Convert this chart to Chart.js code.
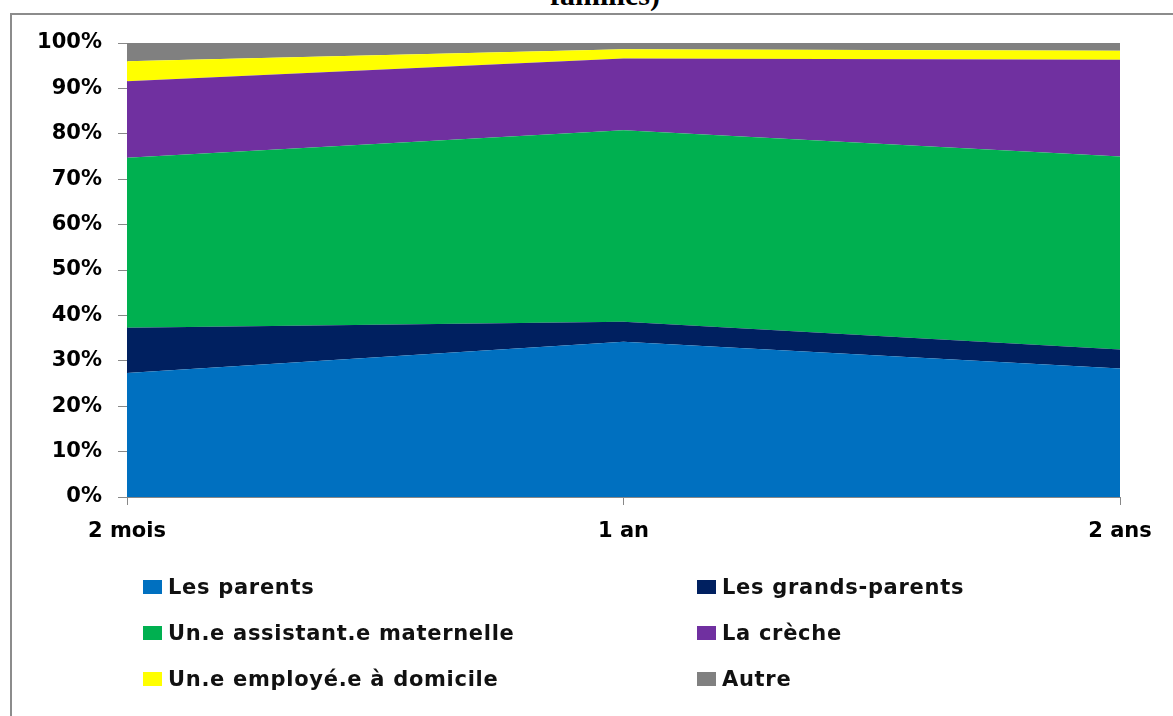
<!DOCTYPE html>
<html>
<head>
<meta charset="utf-8">
<script src="https://cdn.jsdelivr.net/npm/chart.js@4/dist/chart.umd.min.js"></script>
<style>
  html, body { margin: 0; padding: 0; background: #fff; width: 1173px; height: 716px; overflow: hidden; }
  #wrap { position: absolute; left: 0; top: 0; width: 1173px; height: 716px; }
  #frame { position: absolute; left: 10px; top: 13px; width: 1200px; height: 720px;
           border-top: 2px solid #8c8c8c; border-left: 2px solid #8c8c8c; box-sizing: border-box; }
  #title { position: absolute; left: 405px; width: 400px; top: -20px; text-align: center;
           font-family: "Liberation Serif", "Times New Roman", serif; font-weight: bold;
           font-size: 30px; line-height: 30px; color: #000; }
  canvas { position: absolute; left: 0; top: 0; }
  .lg { position: absolute; height: 24px; line-height: 24px; white-space: nowrap;
        font-family: "DejaVu Sans", sans-serif; font-weight: bold; font-size: 21px; letter-spacing: 0.7px; color: #111; }
  .lg i { position: absolute; left: 0; top: 5px; width: 19px; height: 14px; }
  .lg span { position: absolute; left: 25px; top: 0; }
</style>
</head>
<body>
<div id="wrap">
  <div id="frame"></div>
  <div id="title">familles)</div>
  <canvas id="c" width="1173" height="716"></canvas>
  <div id="legend"></div>
</div>
<script>
const categories = ["2 mois", "1 an", "2 ans"];
const seriesNames = ["Les parents", "Les grands-parents", "Un.e assistant.e maternelle",
                     "La crèche", "Un.e employé.e à domicile", "Autre"];
const parents       = [27.3, 34.2, 28.3];
const grandsParents = [10.0, 4.4, 4.2];
const assistante    = [37.4, 42.2, 42.5];
const creche        = [16.9, 15.8, 21.3];
const employee      = [4.4, 2.0, 2.0];
const autre         = [4.0, 1.4, 1.7];
const colors = ["#0070C0", "#002060", "#00B050", "#7030A0", "#FFFF00", "#808080"];
const yTicks = [0, 10, 20, 30, 40, 50, 60, 70, 80, 90, 100];

const seriesValues = [parents, grandsParents, assistante, creche, employee, autre];

const datasets = seriesValues.map((vals, i) => ({
  label: seriesNames[i],
  data: vals,
  backgroundColor: colors[i],
  borderColor: colors[i],
  borderWidth: 0,
  pointRadius: 0,
  tension: 0,
  fill: i === 0 ? 'origin' : '-1'
}));

const tickFont = { family: "DejaVu Sans", weight: "bold", size: 21 };

new Chart(document.getElementById('c'), {
  type: 'line',
  data: { labels: categories, datasets },
  options: {
    responsive: false,
    animation: false,
    layout: { padding: { top: 43, right: 53, bottom: 169, left: 0 } },
    plugins: { legend: { display: false }, tooltip: { enabled: false }, title: { display: false } },
    scales: {
      x: {
        type: 'category',
        offset: false,
        grid: { display: true, drawOnChartArea: false, drawTicks: true, tickLength: 8, color: '#888' },
        border: { display: true, color: '#888', width: 1 },
        ticks: { font: tickFont, color: '#000', padding: 14, maxRotation: 0, autoSkip: false },
        afterFit: s => { s.height = 50; }
      },
      y: {
        stacked: true,
        min: 0, max: 100,
        afterBuildTicks: s => { s.ticks = yTicks.map(v => ({ value: v })); },
        grid: { display: true, drawOnChartArea: false, drawTicks: true, tickLength: 9, color: '#888' },
        border: { display: true, color: '#888', width: 1 },
        ticks: { font: tickFont, color: '#000', padding: 16, callback: v => v + '%' },
        afterFit: s => { s.width = 127; }
      }
    }
  }
});

// HTML legend built from series arrays (2 columns, 3 rows)
const legend = document.getElementById('legend');
const colX = [143, 697];
const rowY = [587, 633, 679];
seriesNames.forEach((name, i) => {
  const d = document.createElement('div');
  d.className = 'lg';
  d.style.left = colX[i % 2] + 'px';
  d.style.top = (rowY[Math.floor(i / 2)] - 12) + 'px';
  d.innerHTML = '<i style="background:' + colors[i] + '"></i><span></span>';
  d.querySelector('span').textContent = name;
  legend.appendChild(d);
});
</script>
</body>
</html>
